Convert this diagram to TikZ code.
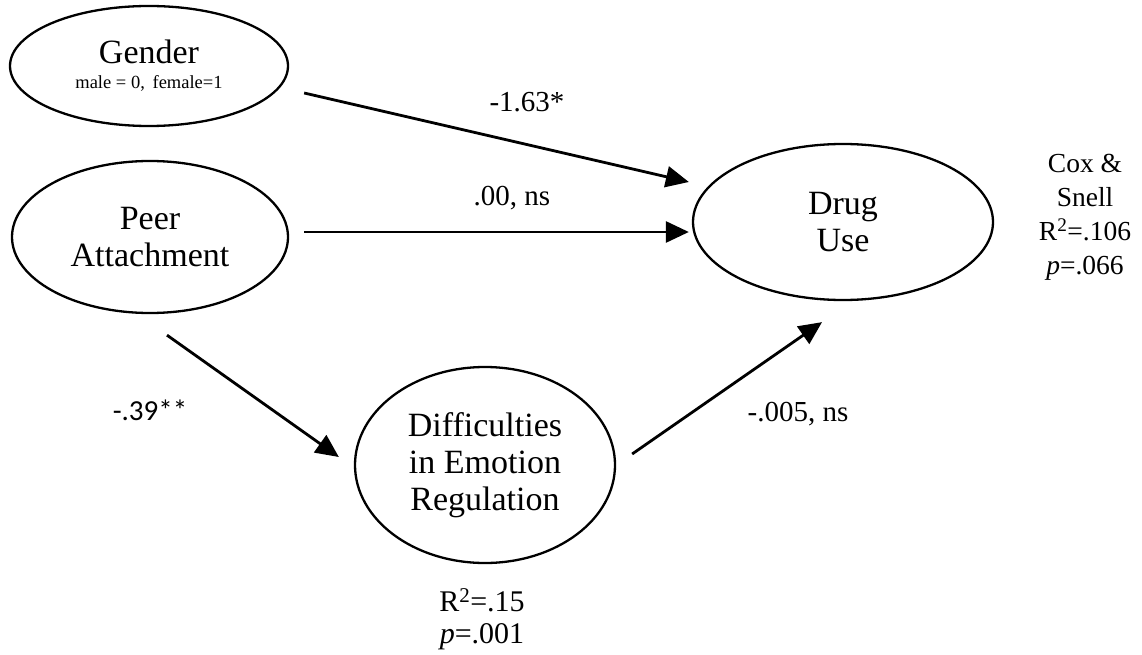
\documentclass[tikz,border=0pt]{standalone}
\usepackage{fontspec}
\setmainfont{Liberation Serif}
\newfontfamily\calibrifont{Carlito}
\usepackage{tikz}
\usetikzlibrary{positioning,arrows.meta,shapes.geometric,calc}
\tikzset{
  % --- nodes
  var/.style  = {ellipse, draw, line width=2.3pt, inner sep=0pt, align=center,
                 font=\fontsize{34}{37}\selectfont},
  coef/.style = {font=\fontsize{29}{31}\selectfont, inner sep=0pt},
  stat/.style = {font=\fontsize{27.5}{34}\selectfont, align=center, inner sep=0pt},
  % --- edges
  path/.style = {-{Triangle[length=23pt,width=21pt]}, line width=2.8pt},
}
\begin{document}
\begin{tikzpicture}[x=1pt,y=-1pt]
  \useasboundingbox (0,0) rectangle (1142,655);
  % latent variables
  \node[var, minimum width=278pt, minimum height=120pt] (gender) at (149,66)
    {Gender\\[-12pt]{\fontsize{18.5}{20}\selectfont male = 0,\, female=1}};
  \node[var, minimum width=276pt, minimum height=152pt] (peer) at (150,237)
    {Peer\\Attachment};
  \node[var, minimum width=300pt, minimum height=156pt] (drug) at (843,222)
    {Drug\\Use};
  \node[var, minimum width=260pt, minimum height=196pt] (der) at (485,465)
    {Difficulties\\in Emotion\\Regulation};
  % paths
  \draw[path] ([shift={(15,27)}]gender.east) -- ([shift={(-3,-40)}]drug.west);
  \draw[path] ([shift={(15,-5)}]peer.east) -- ([shift={(-3,10)}]drug.west);
  \draw[path] ([shift={(17,21)}]peer.south) -- ([shift={(-15,-8)}]der.west);
  \draw[path] ([shift={(16,-11)}]der.east) -- ([shift={(-21,21)}]drug.south);
  % coefficients
  \node[coef] (cgender) at (527,102) {-1.63*};
  \node[coef] (cpeer) at (512,198) {.00, ns};
  \node[coef, font=\calibrifont\fontsize{29}{32}\selectfont] (cpeerder) at (150,410) {-.39**};
  \node[coef] (cder) at (798,414) {-.005, ns};
  % fit statistics
  \node[stat] (rdrug) at (1085,217)
    {Cox \&\\Snell\\R\textsuperscript{2}=.106\\\textit{p}=.066};
  \node[stat, font=\fontsize{30}{32}\selectfont] (rder) at (482,619)
    {R\textsuperscript{2}=.15\\\textit{p}=.001};
\end{tikzpicture}
\end{document}
